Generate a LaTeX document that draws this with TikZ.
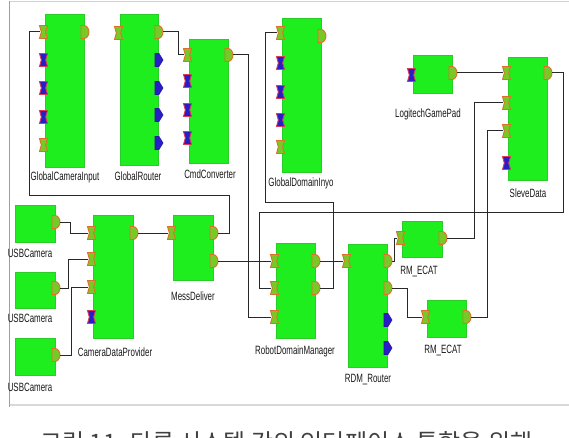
\documentclass[tikz,border=0pt]{standalone}
\usepackage{fontspec}
\setmainfont{Liberation Sans}
\newfontfamily\krfont{Noto Sans CJK KR}
\usepackage{graphicx}

\definecolor{blkgreen}{RGB}{30,238,30}
\definecolor{blkedge}{RGB}{40,205,40}
\definecolor{portfill}{RGB}{120,200,40}
\definecolor{portedge}{RGB}{225,110,40}
\definecolor{bluefill}{RGB}{40,30,200}
\definecolor{blueedge}{RGB}{220,60,90}
\definecolor{wirecol}{RGB}{40,40,40}

\newcommand\lb[1]{\scalebox{0.66}[1]{#1}}

\tikzset{
  blk/.style={fill=blkgreen, draw=blkedge, line width=0.4pt, anchor=north west, inner sep=0pt},
  wire/.style={draw=wirecol, line width=1pt},
  lbl/.style={font=\fontsize{12}{13}\selectfont, text=black!90, inner sep=0pt},
  % notched input port
  inport/.pic={
    \path[fill=portfill, draw=portedge, line width=0.9pt]
      (-4,-6.5) -- (4,-6.5) -- (2.2,0) -- (4,6.5) -- (-4,6.5) -- (-2.2,0) -- cycle;
    \coordinate (-w) at (-4,0);
  },
  inblue/.pic={
    \path[fill=bluefill, draw=blueedge, line width=0.9pt]
      (-4,-6.5) -- (4,-6.5) -- (2.2,0) -- (4,6.5) -- (-4,6.5) -- (-2.2,0) -- cycle;
    \coordinate (-w) at (-4,0);
  },
  % rounded output port
  outport/.pic={
    \path[fill=portfill, draw=portedge, line width=0.9pt]
      (-3,-6.5) -- (0,-6.5) arc[start angle=-90, end angle=90, x radius=5, y radius=6.5]
      -- (-3,6.5) -- cycle;
    \coordinate (-e) at (5,0);
  },
  outblue/.pic={
    \path[fill=bluefill, draw=bluefill!80!black, line width=0.6pt]
      (-3,-6.5) -- (1,-6.5) -- (5,0) -- (1,6.5) -- (-3,6.5) -- cycle;
    \coordinate (-e) at (5,0);
  },
}

\begin{document}
\begin{tikzpicture}[x=1pt, y=-1pt]
\useasboundingbox (0,0) rectangle (569,438);
\begin{scope}
\clip (0,0) rectangle (569,438);
\fill[white] (0,0) rectangle (569,438);

% window frame
\draw[gray!35, line width=1pt] (9,1.5) -- (575,1.5);
\draw[gray!30, line width=2pt] (9,405) -- (575,405);
\draw[gray!75, line width=1pt] (9,1.5) -- (9,407);

% ---------- blocks ----------
\node[blk, minimum width=39, minimum height=153] (gci) at (45,14) {};
\node[blk, minimum width=38, minimum height=151] (gr)  at (120,14) {};
\node[blk, minimum width=39, minimum height=124] (cc)  at (189,39) {};
\node[blk, minimum width=39, minimum height=154] (gdi) at (282,18) {};
\node[blk, minimum width=39, minimum height=38]  (lgp) at (413,55) {};
\node[blk, minimum width=39, minimum height=123] (sd)  at (508,57) {};
\node[blk, minimum width=40, minimum height=37]  (u1)  at (15,205) {};
\node[blk, minimum width=40, minimum height=36]  (u2)  at (15,272) {};
\node[blk, minimum width=40, minimum height=37]  (u3)  at (15,338) {};
\node[blk, minimum width=40, minimum height=123] (cdp) at (93,215) {};
\node[blk, minimum width=40, minimum height=65]  (md)  at (173,215) {};
\node[blk, minimum width=39, minimum height=95]  (rdm) at (276,243) {};
\node[blk, minimum width=39, minimum height=123] (rr)  at (348,244) {};
\node[blk, minimum width=40, minimum height=36]  (e1)  at (402,221) {};
\node[blk, minimum width=39, minimum height=37]  (e2)  at (427,300) {};

% ---------- ports ----------
% GlobalCameraInput
\pic (gciI1) at (43.5,32) {inport};
\pic (gciI2) at (43.5,60) {inblue};
\pic (gciI3) at (43.5,88) {inblue};
\pic (gciI4) at (43.5,117) {inblue};
\pic (gciI5) at (43.5,145) {inport};
\pic (gciO1) at (84,32) {outport};
% GlobalRouter
\pic (grI1) at (118.5,33) {inport};
\pic (grO1) at (158,32) {outport};
\pic (grO2) at (158,60) {outblue};
\pic (grO3) at (158,88) {outblue};
\pic (grO4) at (158,115) {outblue};
\pic (grO5) at (158,143) {outblue};
% CmdConverter
\pic (ccI1) at (187.5,55) {inport};
\pic (ccI2) at (187.5,81) {inblue};
\pic (ccI3) at (187.5,110) {inblue};
\pic (ccI4) at (187.5,138) {inblue};
\pic (ccO1) at (228,55) {outport};
% GlobalDomainInfo
\pic (gdiI1) at (280.5,33) {inport};
\pic (gdiI2) at (280.5,63) {inblue};
\pic (gdiI3) at (280.5,92) {inblue};
\pic (gdiI4) at (280.5,120) {inblue};
\pic (gdiI5) at (280.5,147) {inport};
\pic (gdiO1) at (321,36) {outport};
% LogitechGamePad
\pic (lgpI1) at (411.5,75) {inblue};
\pic (lgpO1) at (452,73) {outport};
% SlaveData
\pic (sdI1) at (506.5,73) {inport};
\pic (sdI2) at (506.5,103) {inport};
\pic (sdI3) at (506.5,131) {inport};
\pic (sdI4) at (506.5,163) {inblue};
\pic (sdO1) at (547,73) {outport};
% USB cameras
\pic (u1O) at (55,222) {outport};
\pic (u2O) at (55,288) {outport};
\pic (u3O) at (55,355) {outport};
% CameraDataProvider
\pic (cdpI1) at (91.5,233) {inport};
\pic (cdpI2) at (91.5,259) {inport};
\pic (cdpI3) at (91.5,287) {inport};
\pic (cdpI4) at (91.5,317) {inblue};
\pic (cdpO1) at (133,233) {outport};
% MessDeliver
\pic (mdI1) at (171.5,233) {inport};
\pic (mdO1) at (213,233) {outport};
\pic (mdO2) at (213,261) {outport};
% RobotDomainManager
\pic (rdmI1) at (274.5,261) {inport};
\pic (rdmI2) at (274.5,288) {inport};
\pic (rdmI3) at (274.5,317) {inport};
\pic (rdmO1) at (315,261) {outport};
\pic (rdmO2) at (315,288) {outport};
% RDM_Router
\pic (rrI1) at (346.5,261) {inport};
\pic (rrO1) at (387,261) {outport};
\pic (rrO2) at (387,288) {outport};
\pic (rrO3) at (387,320) {outblue};
\pic (rrO4) at (387,348) {outblue};
% RM_ECAT units
\pic (e1I) at (400.5,238) {inport};
\pic (e1O) at (442,238) {outport};
\pic (e2I) at (425.5,317) {inport};
\pic (e2O) at (466,317) {outport};

% ---------- wires ----------
\draw[wire] (grO1-e) -- ++(15,0) |- (ccI1-w);
\draw[wire] (ccO1-e) -- ++(15,0) |- (rdmI3-w);
\draw[wire] (mdO1-e) -| (229,196) -| (29,32) -- (gciI1-w);
\draw[wire] (rdmO2-e) -| (333,202) -| (265,33) -- (gdiI1-w);
\draw[wire] (sdO1-e) -| (563,212) -| (259,288) -- (rdmI2-w);
\draw[wire] (lgpO1-e) -- (sdI1-w);
\draw[wire] (e1O-e) -| (474,103) -- (sdI2-w);
\draw[wire] (e2O-e) -| (487,131) -- (sdI3-w);
\draw[wire] (rrO1-e) -- ++(2,0) |- (e1I-w);
\draw[wire] (rrO2-e) -| (407,317) -- (e2I-w);
\draw[wire] (rdmO1-e) -- (rrI1-w);
\draw[wire] (mdO2-e) -- (rdmI1-w);
\draw[wire] (cdpO1-e) -- (mdI1-w);
\draw[wire] (u1O-e) -| (70,233) -- (cdpI1-w);
\draw[wire] (u2O-e) -| (68,259) -- (cdpI2-w);
\draw[wire] (u3O-e) -| (71,287) -- (cdpI3-w);

% ---------- labels ----------
\node[lbl] (gciL) at (65,177) {\lb{GlobalCameraInput}};
\node[lbl] (grL)  at (138,176) {\lb{GlobalRouter}};
\node[lbl] (ccL)  at (210,174) {\lb{CmdConverter}};
\node[lbl] (gdiL) at (301,183) {\lb{GlobalDomainInyo}};
\node[lbl] (lgpL) at (428,114) {\lb{LogitechGamePad}};
\node[lbl] (sdL)  at (528,193) {\lb{SleveData}};
\node[lbl] (u1L)  at (30,253) {\lb{USBCamera}};
\node[lbl] (u2L)  at (30,318) {\lb{USBCamera}};
\node[lbl] (u3L)  at (30,387) {\lb{USBCamera}};
\node[lbl] (cdpL) at (115,352) {\lb{CameraDataProvider}};
\node[lbl] (mdL)  at (193,296) {\lb{MessDeliver}};
\node[lbl] (rdmL) at (295,351) {\lb{RobotDomainManager}};
\node[lbl] (rrL)  at (368,380) {\lb{RDM\_Router}};
\node[lbl] (e1L)  at (419,272) {\lb{RM\_ECAT}};
\node[lbl] (e2L)  at (443,350) {\lb{RM\_ECAT}};

% caption, running off the lower edge
\node[anchor=base west, font=\krfont\fontsize{24}{26}\selectfont, text=black!75, inner sep=0pt]
  (cap) at (40,451) {그림 11. 다른 시스템 간의 인터페이스 통합을 위해};
\end{scope}
\end{tikzpicture}
\end{document}
